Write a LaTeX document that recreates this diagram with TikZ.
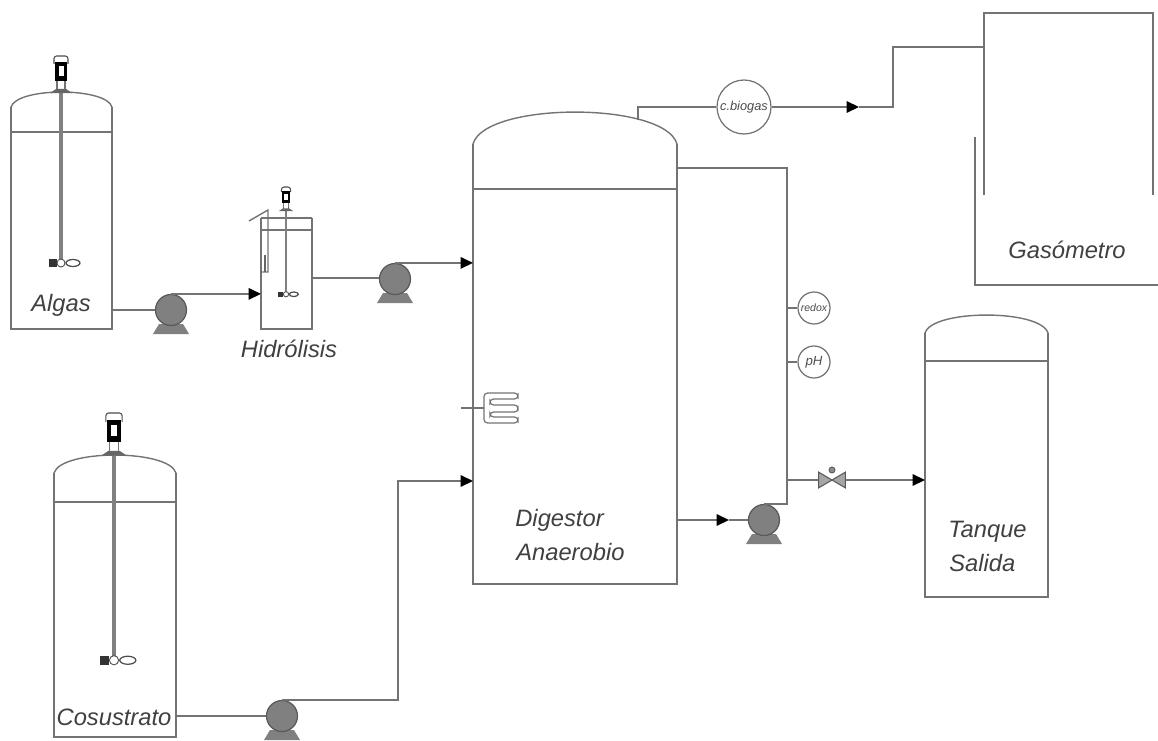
\documentclass[tikz,border=0pt]{standalone}
\usepackage{fontspec}
\setmainfont{Liberation Sans}
\usetikzlibrary{arrows.meta}
\tikzset{
	pipe/.style={draw=black!55, line width=0.8pt},
	flow/.style={pipe, ->},
	vessel/.style={rectangle, inner sep=0pt, outer sep=0pt, anchor=north west},
	pumpbody/.style={circle, draw=black!65, fill=black!50, line width=0.7pt, minimum size=0.62cm, inner sep=0pt},
	gauge/.style={circle, draw=black!55, line width=0.7pt, inner sep=0pt, text=black!70},
	tag/.style={text=black!75, inner sep=0pt, font=\fontsize{13.5}{16}\selectfont\itshape, align=left}
}
% name, left, top, width, height, band
\newcommand{\tank}[6]{
	\node[vessel, minimum width=#4*0.02cm, minimum height=#5*0.02cm] (#1) at (#2,#3) {};
	\draw[pipe] (#1.north west) -- (#1.south west) -- (#1.south east) -- (#1.north east);
	\draw[pipe] (#2,#3+#6) -- (#2+#4,#3+#6);
}
% name, width, rise
\newcommand{\dome}[3]{
	\draw[pipe] (#1.north west) .. controls +(0.06*#2,-1.33*#3) and +(-0.06*#2,-1.33*#3) .. (#1.north east);
}
% name, x, y
\newcommand{\pump}[3]{
	\fill[black!50] (#2-12,#3+14) -- (#2+12,#3+14) -- (#2+18,#3+24) -- (#2-18,#3+24) -- cycle;
	\node[pumpbody] (#1) at (#2,#3) {};
}
% x, top, shaft length, scale
\newcommand{\agitator}[4]{
	\begin{scope}[shift={(#1,#2)}, scale=#4]
		\draw[black!50, line width=#4*2pt] (0,34) -- (0,#3);
		\draw[black!70, line width=0.6pt, rounded corners=1.5pt] (-7,8) -- (-7,0) -- (7,0) -- (7,8);
		\fill[black] (-6,6) rectangle (6,25);
		\fill[white] (-2.5,10) rectangle (2.5,20);
		\draw[black!55, line width=0.6pt] (-4,25) -- (-4,34) -- (4,34) -- (4,25);
		\fill[black!60] (-11,37) -- (-5,33) -- (5,33) -- (11,37) -- cycle;
		\draw[black!70, line width=0.7pt] (12,#3) ellipse (7 and 3.5);
		\fill[black!80] (-12,#3-4) rectangle (-4,#3+4);
		\draw[black!70, fill=white, line width=0.5pt] (0,#3) circle (4);
	\end{scope}
}
\begin{document}
\begin{tikzpicture}[x=0.02cm, y=-0.02cm, >={Triangle[length=7pt,width=6.5pt,color=black]}]
	\useasboundingbox (0,0) rectangle (1158,740);
	\tank{algas}{11}{107}{101}{222}{25}
	\dome{algas}{101}{15}
	\agitator{61}{56}{207}{1}
	\tank{hidro}{261}{218}{51}{111}{12}
	\draw[pipe] (hidro.north west) -- (hidro.north east);
	\agitator{286}{187}{165}{0.65}
	\draw[pipe] (249,221) -- (268,210) -- (268,272) -- (261,272);
	\draw[black!60, line width=1.6pt] (265,255) -- (265,272);
	\tank{cosustrato}{54}{473}{122}{264}{29}
	\dome{cosustrato}{122}{18}
	\agitator{114}{413}{215}{1.15}
	\tank{digestor}{473}{144}{204}{440}{45}
	\dome{digestor}{204}{32}
	\tank{tanque}{925}{333}{123}{264}{28}
	\dome{tanque}{123}{18}

	\pump{pumpA}{171}{310}
	\pump{pumpB}{395}{279}
	\pump{pumpC}{764}{520}
	\pump{pumpD}{282}{716}

	\draw[pipe] (algas.east |- pumpA) -- (pumpA.west);
	\draw[flow] (pumpA.north) -- (hidro.west |- pumpA.north);
	\coordinate (hidroOut) at (312,278);
	\draw[pipe] (hidroOut) -- (pumpB.west |- hidroOut);
	\draw[flow] (pumpB.north) -- (digestor.west |- pumpB.north);
	\draw[pipe] (cosustrato.east |- pumpD) -- (pumpD.west);
	\coordinate (riser) at (398,481);
	\draw[flow] (pumpD.north) -| (riser) -- (digestor.west |- riser);

	\node[gauge, minimum size=1.08cm, font=\fontsize{7.3}{8}\selectfont\itshape] (biogas) at (744,107) {c.biogas};
	\coordinate (gasOut) at (638,120);
	\coordinate (gasMark) at (859,107);
	\coordinate (gasUp) at (893,107);
	\coordinate (gasIn) at (984,47);
	\draw[pipe] (gasOut) |- (biogas.west);
	\draw[flow] (biogas.east) -- (gasMark);
	\draw[pipe] (gasMark) -- (gasUp) |- (gasIn);

	\draw[pipe] (984,195) -- (984,13) -- (1153,13) -- (1153,195);
	\draw[pipe] (975,137) -- (975,285) -- (1158,285);

	\coordinate (loopTop) at (digestor.east |- 0,168);
	\coordinate (loopCol) at (787,168);
	\draw[pipe] (loopTop) -- (loopCol) |- (pumpC.north);
	\coordinate (pumpMark) at (729,520);
	\draw[flow] (digestor.east |- pumpC) -- (pumpMark);
	\draw[pipe] (pumpMark) -- (pumpC.west);

	\node[gauge, minimum size=0.64cm, font=\fontsize{6}{7}\selectfont\itshape] (redox) at (814,308) {redox};
	\node[gauge, minimum size=0.64cm, font=\fontsize{7.5}{8}\selectfont\itshape] (ph) at (814,362) {pH};
	\draw[pipe] (loopCol |- redox) -- (redox.west);
	\draw[pipe] (loopCol |- ph) -- (ph.west);

	\node[minimum width=0.52cm, minimum height=0.3cm, inner sep=0pt] (valve) at (832,480) {};
	\draw[pipe] (loopCol |- valve) -- (valve.west);
	\draw[flow] (valve.east) -- (tanque.west |- valve);
	\draw[draw=black!65, fill=black!35, line width=0.6pt] (valve.north west) -- (valve.south east) -- (valve.north east) -- (valve.south west) -- cycle;
	\draw[black!65, fill=black!45, line width=0.5pt] (832,470) circle (3);

	\coordinate (heatIn) at (461,408);
	\coordinate (heatOut) at (484,408);
	\draw[pipe] (heatIn) -- (heatOut);
	\draw[pipe, line width=0.7pt, rounded corners=2pt] (484,393) -- (518,393) -- (518,399) -- (490,399) -- (490,405) -- (518,405) -- (518,412) -- (490,412) -- (490,417) -- (518,417) -- (518,423) -- (484,423) -- cycle;

	\node[tag] (tagAlgas) at (61,305) {Algas};
	\node[tag] (tagHidro) at (289,349) {Hidrólisis};
	\node[tag] (tagCosus) at (114,717) {Cosustrato};
	\node[tag, anchor=west] (tagDig) at (515,520) {Digestor};
	\node[tag, anchor=west] (tagAna) at (516,552) {Anaerobio};
	\node[tag] (tagGas) at (1067,250) {Gasómetro};
	\node[tag, anchor=west] (tagTan) at (948,532) {Tanque};
	\node[tag, anchor=west] (tagSal) at (949,563) {Salida};
\end{tikzpicture}
\end{document}
